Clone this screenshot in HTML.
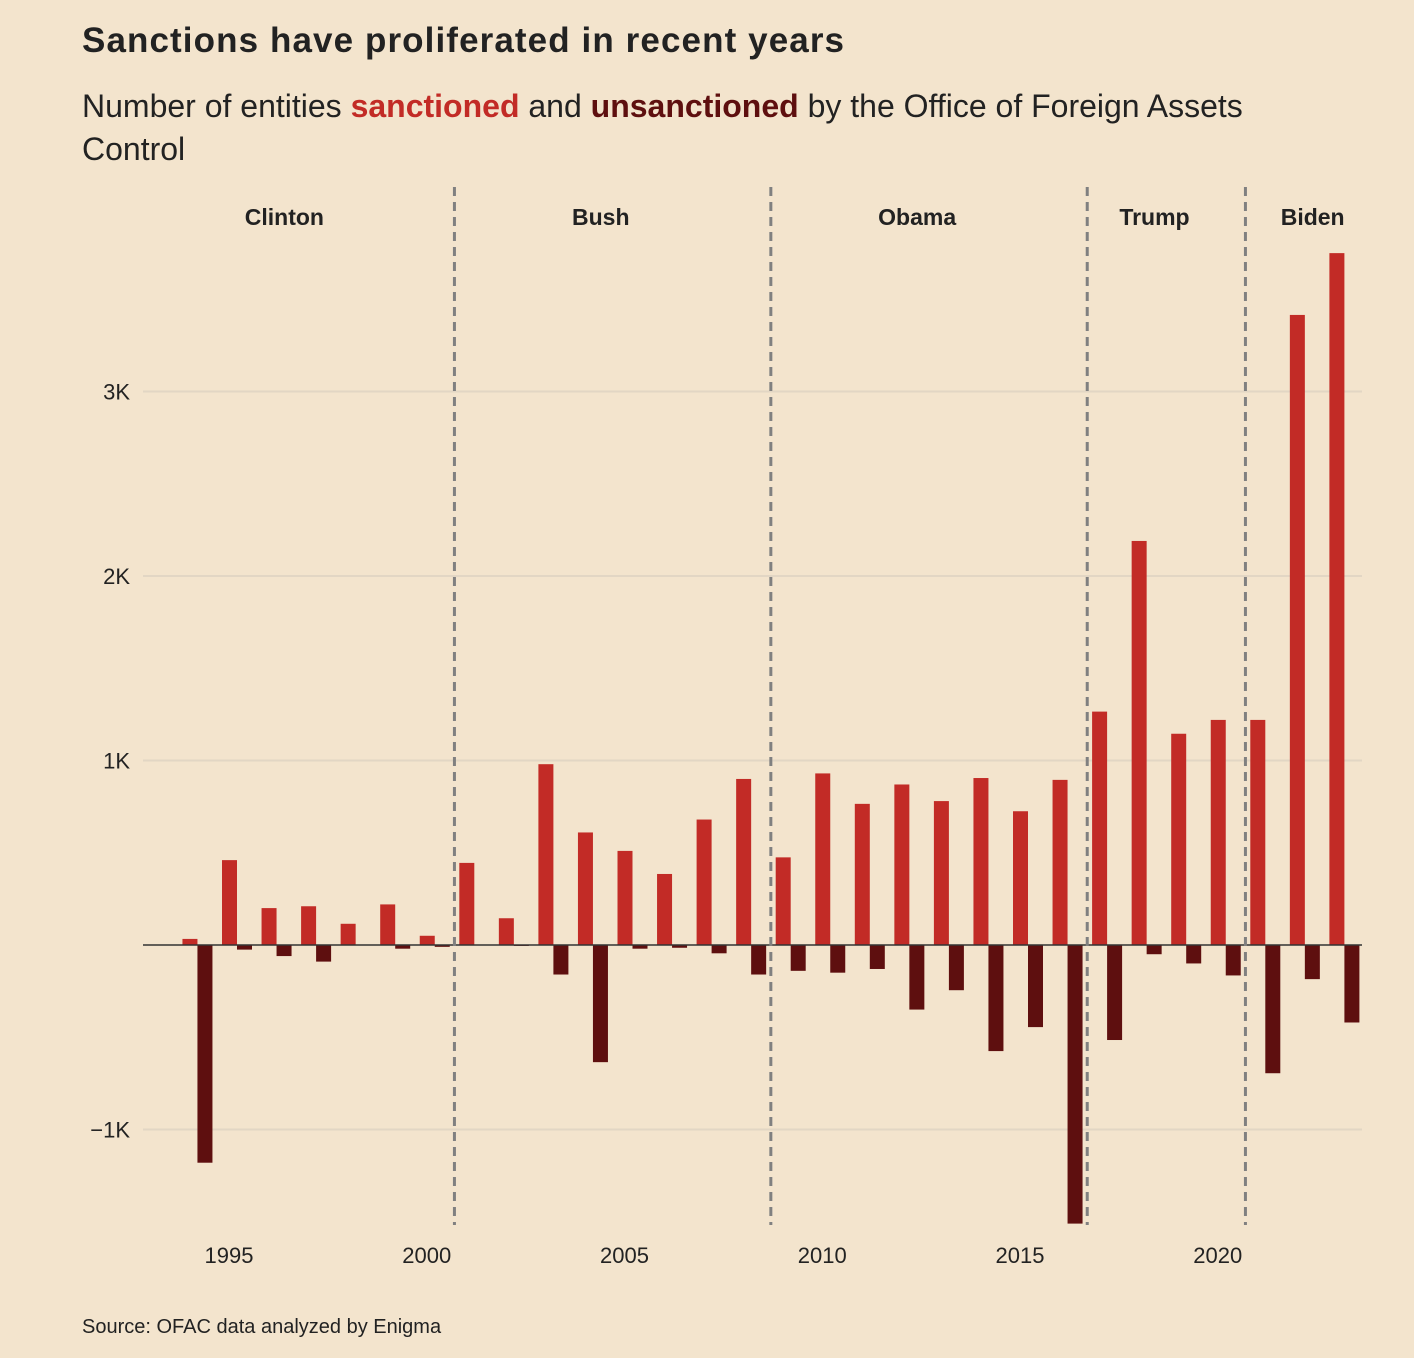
<!DOCTYPE html>
<html><head><meta charset="utf-8">
<style>
html,body{margin:0;padding:0;background:#f3e4cd;}
body{width:1414px;height:1358px;overflow:hidden;font-family:"Liberation Sans",sans-serif;color:#222;}
#title{position:absolute;left:82px;top:21px;font-size:35px;font-weight:bold;letter-spacing:1.1px;}
#subtitle{position:absolute;left:82px;top:85px;font-size:32px;line-height:43px;width:1200px;color:#222;}
.s{color:#c22b26;font-weight:bold}.u{color:#5e0f0f;font-weight:bold}
#source{position:absolute;left:82px;top:1316px;font-size:20px;}
svg{position:absolute;left:0;top:0;}
</style></head><body>
<div id="title">Sanctions have proliferated in recent years</div>
<div id="subtitle">Number of entities <span class="s">sanctioned</span> and <span class="u">unsanctioned</span> by the Office of Foreign Assets Control</div>
<svg id="chart" width="1414" height="1358"></svg>
<div id="source">Source: OFAC data analyzed by Enigma</div>
<script>
const years=[1993,1994,1995,1996,1997,1998,1999,2000,2001,2002,2003,2004,2005,2006,2007,2008,2009,2010,2011,2012,2013,2014,2015,2016,2017,2018,2019,2020,2021,2022,2023];
const sanctioned=[0,33,460,200,210,115,220,50,445,145,980,610,510,385,680,900,475,930,765,870,780,905,725,895,1265,2190,1145,1220,1220,3415,3750];
const unsanctioned=[0,-1180,-25,-60,-90,0,-20,-10,0,-5,-160,-635,-20,-15,-45,-160,-140,-150,-130,-350,-245,-575,-445,-1510,-515,-50,-100,-165,-695,-185,-420];
const yTicks=[-1000,1000,2000,3000];
const yTickLabels=["\u22121K","1K","2K","3K"];
const xTicks=[1995,2000,2005,2010,2015,2020];
const presidents=["Clinton","Bush","Obama","Trump","Biden"];
const terms=[1992.7,2000.7,2008.7,2016.7,2020.7];
const labelYears=[1996.4,2004.4,2012.4,2018.4,2022.4];

const NS="http://www.w3.org/2000/svg";
const svg=document.getElementById('chart');
const x=yr=>229+(yr-1995)*39.55;
const y=v=>945-v*0.1845;
function mk(tag,attrs,parent){const e=document.createElementNS(NS,tag);for(const k in attrs)e.setAttribute(k,attrs[k]);(parent||svg).appendChild(e);return e;}

yTicks.forEach((t,i)=>{
  const g=mk('line',{x1:143,x2:1362,y1:y(t),y2:y(t),stroke:'#e2d6c4','stroke-width':2});
  
  
  const l=mk('text',{x:130,y:y(t)+8,'text-anchor':'end','font-size':22,fill:'#222'});
  l.textContent=yTickLabels[i];
  
  
});
xTicks.forEach(t=>{
  const l=mk('text',{x:x(t),y:1263,'text-anchor':'middle','font-size':22,fill:'#222'});
  l.textContent=t;
  
  
});
years.forEach((yr,i)=>{
  const s=sanctioned[i],u=unsanctioned[i];
  const b=mk('rect',{x:x(yr)-7,width:15,y:Math.min(y(s),y(0)),height:Math.abs(y(s)-y(0)),fill:'#c22b26'});
  
  
  const d=mk('rect',{x:x(yr)+8,width:15,y:y(0),height:Math.abs(y(u)-y(0)),fill:'#5e0f0f'});
  
  
});
const z=mk('line',{x1:143,x2:1362,y1:y(0),y2:y(0),stroke:'#333','stroke-width':1.5});


presidents.forEach((p,i)=>{
  if(i>0){
    const dl=mk('line',{x1:x(terms[i]),x2:x(terms[i]),y1:187,y2:1225,stroke:'#808080','stroke-width':3,'stroke-dasharray':'9,6'});
    
    
  }
  const t=mk('text',{x:x(labelYears[i]),y:225,'text-anchor':'middle','font-size':23,'font-weight':'bold',fill:'#222'});
  t.textContent=p;
  
  
});
</script>
</body></html>
